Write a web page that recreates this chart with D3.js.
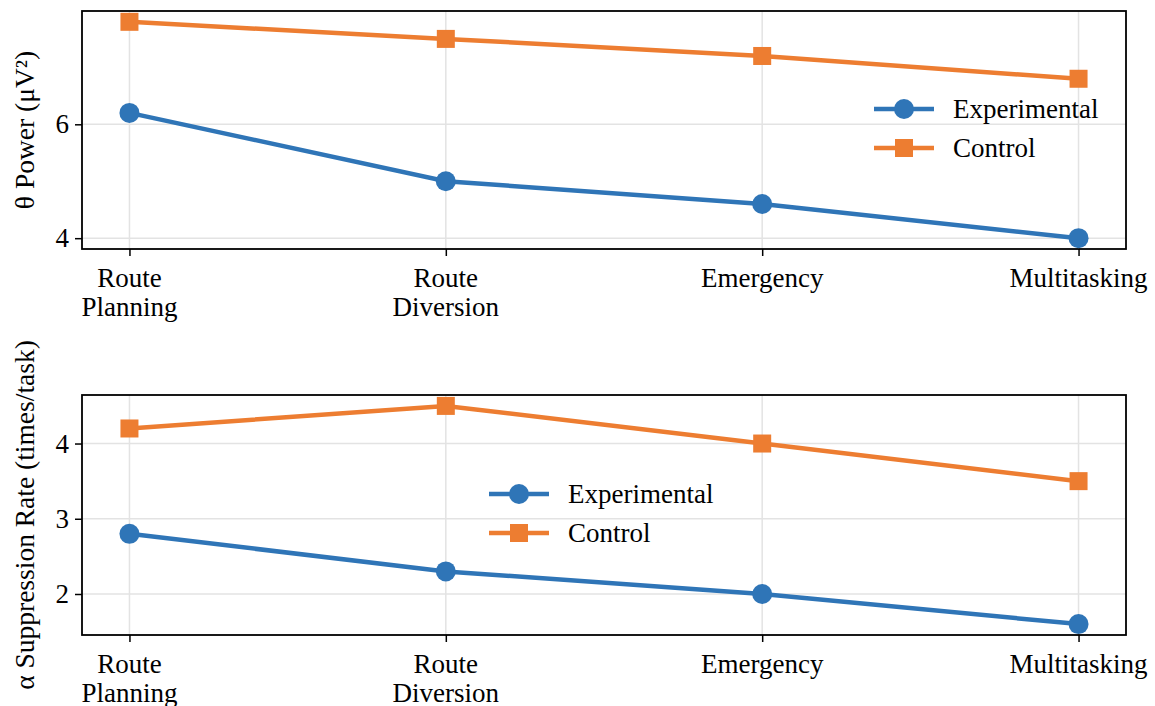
<!DOCTYPE html>
<html>
<head>
<meta charset="utf-8">
<script src="https://cdn.jsdelivr.net/npm/d3@7"></script>
<style>
  body { margin: 0; background: #fff; }
  svg { font-family: "Liberation Serif", "Times New Roman", serif; }
</style>
</head>
<body>
<svg id="chart" width="1155" height="706"></svg>
<script>
// data
let tasks = [["Route", "Planning"], ["Route", "Diversion"], ["Emergency"], ["Multitasking"]];
let seriesNames = ["Experimental", "Control"];
let thetaExp = [6.2, 5.0, 4.6, 4.0];
let thetaCtl = [7.8, 7.5, 7.2, 6.8];
let alphaExp = [2.8, 2.3, 2.0, 1.6];
let alphaCtl = [4.2, 4.5, 4.0, 3.5];
let thetaTicks = [4, 6];
let alphaTicks = [2, 3, 4];

let colors = ["#2f75b7", "#ed7d31"];
let svg = d3.select("#chart");
let fontSize = 27;

let x = d3.scaleLinear().domain([-0.15, 3.15]).range([82, 1126]);

function drawPanel(top, bottom, values, ticks, ylabel, legendX, legendY) {
  let allVals = values[0].concat(values[1]);
  let lo = d3.min(allVals), hi = d3.max(allVals);
  let pad = (hi - lo) * 0.05;
  let y = d3.scaleLinear().domain([lo - pad, hi + pad]).range([bottom, top]);
  let g = svg.append("g");

  // grid
  g.selectAll(".gy").data(ticks).enter().append("line")
    .attr("x1", x.range()[0]).attr("x2", x.range()[1])
    .attr("y1", d => y(d)).attr("y2", d => y(d))
    .attr("stroke", "#e3e3e3").attr("stroke-width", 1.5);
  g.selectAll(".gx").data(tasks).enter().append("line")
    .attr("x1", (d, i) => x(i)).attr("x2", (d, i) => x(i))
    .attr("y1", top).attr("y2", bottom)
    .attr("stroke", "#e3e3e3").attr("stroke-width", 1.5);

  // axes
  let yAxis = g.append("g").attr("transform", "translate(" + x.range()[0] + ",0)")
    .call(d3.axisLeft(y).tickValues(ticks).tickSize(7).tickPadding(6).tickFormat(d3.format("d")));
  let xAxis = g.append("g").attr("transform", "translate(0," + bottom + ")")
    .call(d3.axisBottom(x).tickValues(d3.range(tasks.length)).tickSize(7).tickFormat(""));
  [yAxis, xAxis].forEach(a => {
    a.select(".domain").remove();
    a.selectAll(".tick line").attr("stroke", "#000").attr("stroke-width", 1.5);
    a.selectAll("text").attr("font-size", fontSize).attr("fill", "#000")
      .attr("font-family", "Liberation Serif, serif");
  });

  // x tick labels (multi-line)
  let xl = g.selectAll(".xl").data(tasks).enter().append("text")
    .attr("text-anchor", "middle").attr("font-size", fontSize).attr("fill", "#000");
  xl.each(function(d, i) {
    let t = d3.select(this);
    d.forEach((line, j) => {
      t.append("tspan").attr("x", x(i)).attr("y", bottom + 38 + j * 29).text(line);
    });
  });

  // frame
  g.append("rect").attr("x", x.range()[0]).attr("y", top)
    .attr("width", x.range()[1] - x.range()[0]).attr("height", bottom - top)
    .attr("fill", "none").attr("stroke", "#000").attr("stroke-width", 1.8);

  // y label
  g.append("text")
    .attr("transform", "translate(24," + ((top + bottom) / 2) + ") rotate(-90)")
    .attr("text-anchor", "middle").attr("dominant-baseline", "central")
    .attr("font-size", 27.5).attr("fill", "#000").text(ylabel);

  let line = d3.line().x((d, i) => x(i)).y(d => y(d));
  values.forEach((vals, s) => {
    g.append("path").datum(vals).attr("d", line)
      .attr("fill", "none").attr("stroke", colors[s]).attr("stroke-width", 4.5);
    if (s === 0) {
      g.selectAll(".m" + s).data(vals).enter().append("circle")
        .attr("cx", (d, i) => x(i)).attr("cy", d => y(d)).attr("r", 10)
        .attr("fill", colors[s]);
    } else {
      g.selectAll(".m" + s).data(vals).enter().append("rect")
        .attr("x", (d, i) => x(i) - 9).attr("y", d => y(d) - 9)
        .attr("width", 18).attr("height", 18).attr("fill", colors[s]);
    }
  });

  // legend
  seriesNames.forEach((name, s) => {
    let ly = legendY + s * 39;
    g.append("line").attr("x1", legendX).attr("x2", legendX + 60)
      .attr("y1", ly).attr("y2", ly).attr("stroke", colors[s]).attr("stroke-width", 4.5);
    if (s === 0) {
      g.append("circle").attr("cx", legendX + 30).attr("cy", ly).attr("r", 10).attr("fill", colors[s]);
    } else {
      g.append("rect").attr("x", legendX + 21).attr("y", ly - 9).attr("width", 18).attr("height", 18).attr("fill", colors[s]);
    }
    g.append("text").attr("x", legendX + 79).attr("y", ly).attr("dominant-baseline", "central")
      .attr("font-size", fontSize).attr("fill", "#000").text(name);
  });
}

drawPanel(11, 249, [thetaExp, thetaCtl], thetaTicks, "\u03b8 Power (\u03bcV\u00b2)", 874, 109);
drawPanel(395, 635, [alphaExp, alphaCtl], alphaTicks, "\u03b1 Suppression Rate (times/task)", 489, 494);
</script>
</body>
</html>
